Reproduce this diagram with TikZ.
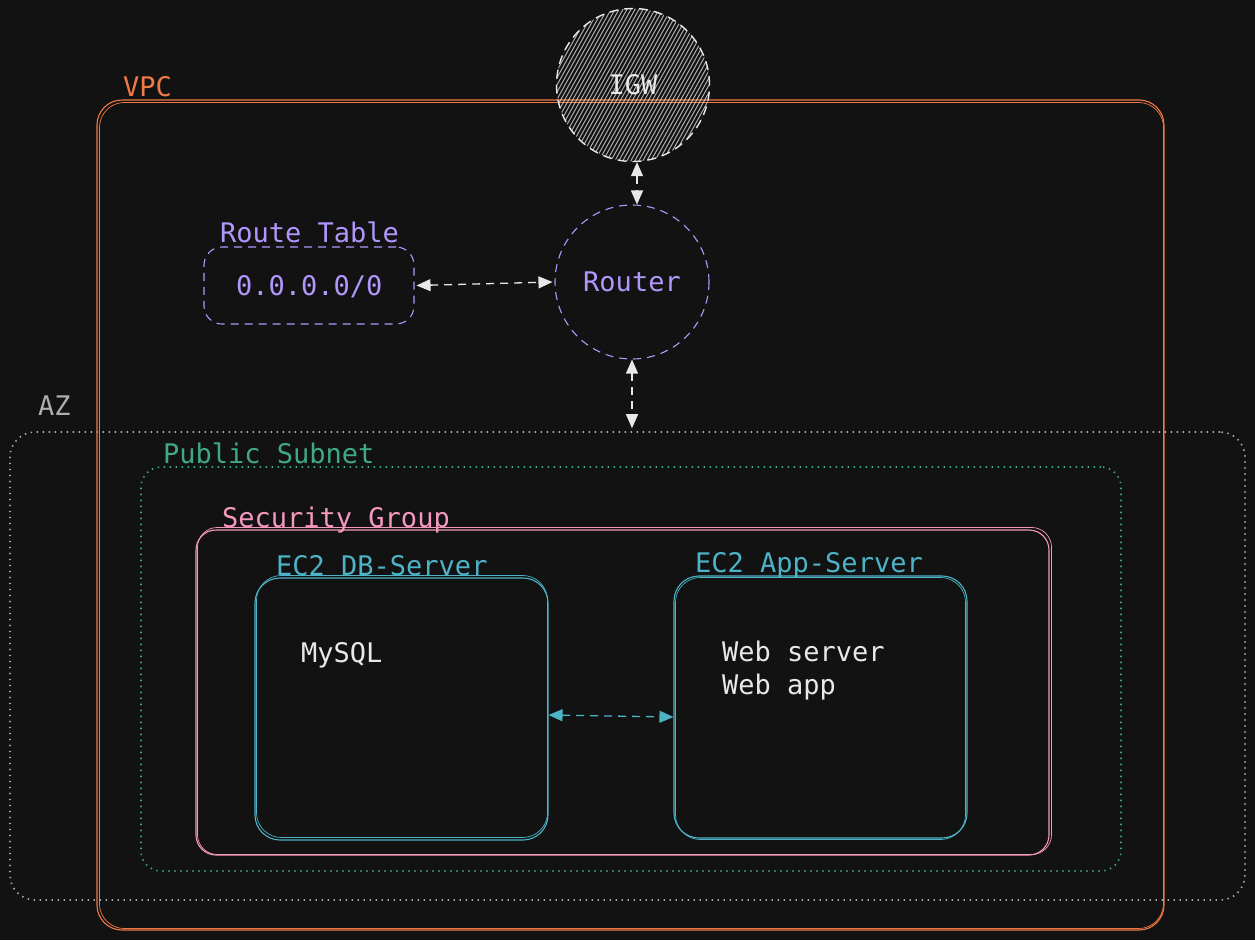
\documentclass[tikz,border=0pt]{standalone}
\usepackage{fontspec}
\setmainfont{DejaVu Sans Mono}
\usetikzlibrary{arrows.meta,calc}
\definecolor{bg}{HTML}{121212}
\definecolor{vpcc}{HTML}{F07A45}
\definecolor{azc}{HTML}{AEAEAE}
\definecolor{subc}{HTML}{3FA987}
\definecolor{sgc}{HTML}{F598BE}
\definecolor{ec2c}{HTML}{4DB3C7}
\definecolor{purp}{HTML}{B197FC}
\definecolor{wht}{HTML}{E8E8E8}
\begin{document}
\begin{tikzpicture}[x=1pt,y=-1pt, font=\fontsize{27}{33}\selectfont,
 lbl/.style={anchor=base west, inner sep=0pt},
 box/.style={draw, line width=1.1pt, inner sep=0pt},
 sketch/.style={line width=0.7pt},
 dotline/.style={line width=1.6pt, dash pattern=on 1.4pt off 4.6pt},
 biarrow/.style={{Triangle[length=14pt,width=12pt]}-{Triangle[length=14pt,width=12pt]}, dash pattern=on 8pt off 6pt, line width=1.3pt}
]
\fill[bg] (0,0) rectangle (1255,940);
\useasboundingbox (0,0) rectangle (1255,940);

% AZ
\node[box, dotline, azc, rounded corners=25pt, minimum width=1235pt, minimum height=468pt] (az) at (627.5,666) {};
\node[lbl, azc] (azl) at (38,415) {AZ};

% VPC
\node[box, vpcc, rounded corners=25pt, minimum width=1067pt, minimum height=830pt] (vpc) at (630.5,515) {};
\draw[sketch, vpcc, rounded corners=25pt] ($(vpc.north west)+(3,3)$) rectangle ($(vpc.south east)+(-1,-2)$);
\node[lbl, vpcc] (vpcl) at (123,96) {VPC};

% Public subnet
\node[box, dotline, subc, rounded corners=20pt, minimum width=980pt, minimum height=404pt] (sub) at (631,669) {};
\node[lbl, subc] (subl) at (163,463) {Public Subnet};

% Security group
\node[box, sgc, rounded corners=20pt, minimum width=853pt, minimum height=325pt] (sg) at (622.5,692.5) {};
\draw[sketch, sgc, rounded corners=20pt] ($(sg.north west)+(2,-2)$) rectangle ($(sg.south east)+(2,-1)$);
\node[lbl, sgc] (sgl) at (222,527) {Security Group};

% EC2 DB
\node[box, ec2c, rounded corners=25pt, minimum width=293pt, minimum height=262pt] (db) at (401.5,709) {};
\draw[sketch, ec2c, rounded corners=25pt] ($(db.north west)+(2,-2)$) rectangle ($(db.south east)+(-1,-3)$);
\node[lbl, ec2c] (dbl) at (276,575) {EC2 DB-Server};
\node[lbl, wht] (mysql) at (301,662) {MySQL};

% EC2 App
\node[box, ec2c, rounded corners=25pt, minimum width=293pt, minimum height=262pt] (app) at (820.5,707) {};
\draw[sketch, ec2c, rounded corners=25pt] ($(app.north west)+(2,2)$) rectangle ($(app.south east)+(-2,1)$);
\node[lbl, ec2c] (appl) at (695,572) {EC2 App-Server};
\node[lbl, wht] (web1) at (722,661) {Web server};
\node[lbl, wht] (web2) at (722,694) {Web app};

% Route table
\node[box, purp, dash pattern=on 8pt off 6pt, rounded corners=18pt, minimum width=210pt, minimum height=77pt] (rt) at (309,285.5) {};
\node[lbl, purp] (rtl) at (220,242) {Route Table};
\node[lbl, purp] (rtv) at (236,295) {0.0.0.0/0};

% Router
\node[circle, draw, purp, line width=1.1pt, dash pattern=on 8pt off 6pt, minimum size=154pt, inner sep=0pt, text=purp] (router) at (632,282) {Router};

% IGW
\node[circle, draw, wht, line width=1.4pt, dash pattern=on 9pt off 6pt, minimum size=153pt, inner sep=0pt, text=wht,
  path picture={
    \foreach \i in {-180,-176,...,180}
      \draw[solid, white, opacity=0.65, line width=1pt] ($(path picture bounding box.center)+(\i pt - 50pt,-90pt)$) -- ++(100pt,180pt);
  }] (igw) at (633,85) {IGW};

% connectors
\draw[biarrow, wht] ([xshift=2pt]rt.east) -- ([xshift=-2pt]router.west);
\draw[biarrow, wht] ([xshift=4pt]igw.south) -- ([xshift=5pt]router.north);
\draw[biarrow, wht] (router.south) -- ([yshift=3pt]router.south |- az.north);
\draw[biarrow, ec2c] ([yshift=-6pt]db.east) -- ([yshift=-10pt]app.west);
\end{tikzpicture}
\end{document}
